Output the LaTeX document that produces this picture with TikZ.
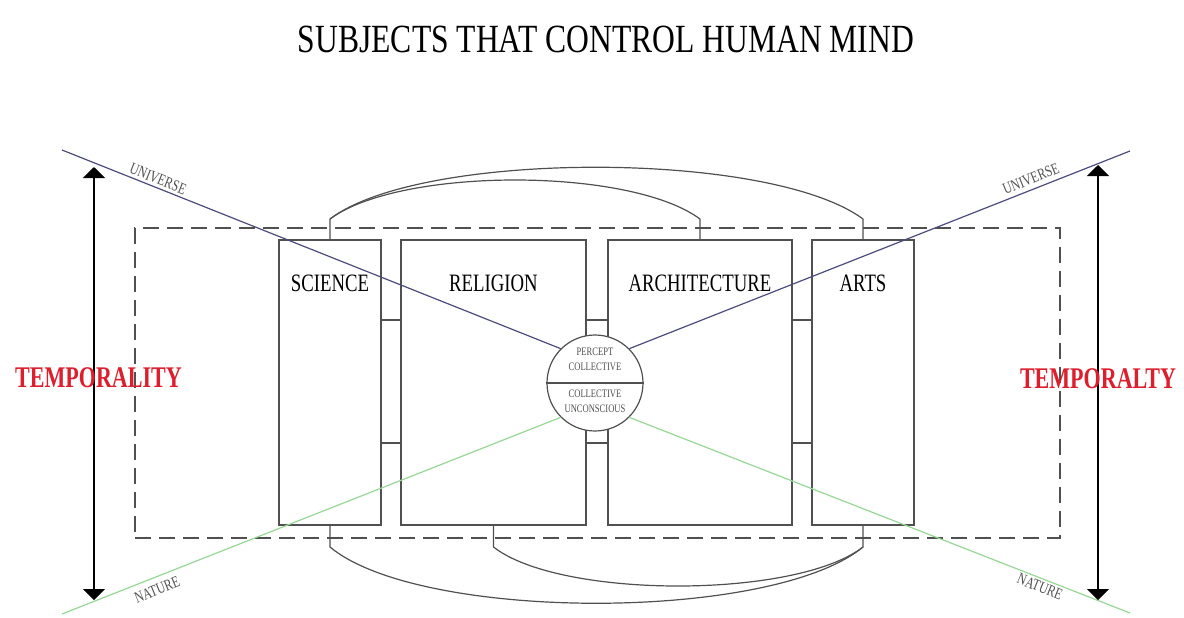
\documentclass[tikz,border=0pt]{standalone}
\usepackage{fontspec}
\setmainfont{Liberation Serif}
\usetikzlibrary{arrows.meta,calc}
\definecolor{ln}{RGB}{80,80,80}
\definecolor{univ}{RGB}{75,75,125}
\definecolor{nat}{RGB}{150,215,150}
\definecolor{temp}{RGB}{220,30,45}
\newcommand{\condtxt}[2][0.75]{\scalebox{#1}[1]{#2}}
\begin{document}
\begin{tikzpicture}[x=0.5pt,y=-0.5pt,line width=0.6pt,
  subj/.style={draw=ln,minimum height=142.5pt,inner sep=0pt},
  subjlbl/.style={inner sep=0pt,font=\fontsize{12.5}{14}\selectfont},
  conn/.style={draw=ln},
  frame/.style={draw=ln,dash pattern=on 8pt off 4pt,minimum width=462.5pt,minimum height=155pt,inner sep=0pt},
  temparrow/.style={draw=black,line width=0.6pt,{Triangle[width=11pt,length=5.5pt]}-{Triangle[width=11pt,length=5.5pt]}},
  templbl/.style={inner sep=0pt,text=temp,font=\fontsize{15}{18}\selectfont\bfseries},
  smalllbl/.style={inner sep=0pt,font=\fontsize{8}{9}\selectfont,text=ln},
  circlbl/.style={inner sep=0pt,font=\fontsize{5.7}{6.5}\selectfont,text=ln},
]
\useasboundingbox (0,0) rectangle (1184,617);

% title
\node[inner sep=0pt,font=\fontsize{20}{24}\selectfont] (title) at (606,39) {\condtxt[0.79]{SUBJECTS THAT CONTROL HUMAN MIND}};

% dashed frame
\node[frame] (fr) at (597.5,383) {};

% subject boxes
\node[subj,minimum width=51pt] (sci) at (330,382.5) {};
\node[subj,minimum width=92.5pt] (rel) at (493.5,382.5) {};
\node[subj,minimum width=92pt] (arc) at (700,382.5) {};
\node[subj,minimum width=51pt] (art) at (863,382.5) {};

\node[subjlbl] (lsci) at (330,283) {\condtxt{SCIENCE}};
\node[subjlbl] (lrel) at (493.5,283) {\condtxt{RELIGION}};
\node[subjlbl] (larc) at (700,283) {\condtxt{ARCHITECTURE}};
\node[subjlbl] (lart) at (863,283) {\condtxt{ARTS}};

% rungs between boxes
\coordinate (ry1) at (0,320);
\coordinate (ry2) at (0,443);
\foreach \a/\b in {sci/rel,rel/arc,arc/art}{
  \draw[conn] (\a.east |- ry1) -- (\b.west |- ry1);
  \draw[conn] (\a.east |- ry2) -- (\b.west |- ry2);
}

% top arcs
\coordinate (topy) at (0,219);
\coordinate (boty) at (0,547);
\coordinate (sciT) at (sci.north |- topy);
\coordinate (arcT) at (arc.north |- topy);
\coordinate (artT) at (art.north |- topy);
\coordinate (sciB) at (sci.south |- boty);
\coordinate (relB) at (rel.south |- boty);
\coordinate (artB) at (art.south |- boty);
\draw[conn] (sci.north) -- (sciT) .. controls (420,150) and (770,150) .. (artT) -- (art.north);
\draw[conn] (sciT) .. controls (400,167) and (630,167) .. (arcT) -- (arc.north);
\draw[conn] (sci.south) -- (sciB) .. controls (420,622) and (772,622) .. (artB) -- (art.south);
\draw[conn] (rel.south) -- (relB) .. controls (560,599) and (796,599) .. (artB);

% centre circle
\node[draw=ln,fill=white,circle,minimum size=48pt,inner sep=0pt] (circ) at (595,383) {};
\draw[conn] (circ.west) -- (circ.east);
\node[circlbl,align=center] (ctop) at (595,359) {\condtxt{PERCEPT}\\[1pt]\condtxt{COLLECTIVE}};
\node[circlbl,align=center] (cbot) at (595,401) {\condtxt{COLLECTIVE}\\[1pt]\condtxt{UNCONSCIOUS}};

% diagonals
\coordinate (uL) at (62,150);
\coordinate (uR) at (1130,151);
\coordinate (nL) at (62,614);
\coordinate (nR) at (1130,613);
\draw[univ] (uL) -- (circ.135);
\draw[univ] (uR) -- (circ.45);
\draw[nat] (nL) -- (circ.225);
\draw[nat] (nR) -- (circ.315);

\node[smalllbl,rotate=-22] (uLl) at (158,179) {\condtxt{UNIVERSE}};
\node[smalllbl,rotate=22] (uRl) at (1031,179) {\condtxt{UNIVERSE}};
\node[smalllbl,rotate=22] (nLl) at (157,590) {\condtxt{NATURE}};
\node[smalllbl,rotate=-22] (nRl) at (1040,587) {\condtxt{NATURE}};

% temporality arrows
\coordinate (aLt) at (94,167);
\coordinate (aLb) at (94,600);
\coordinate (aRt) at (1098,165);
\coordinate (aRb) at (1098,600);
\draw[temparrow] (aLt) -- (aLb);
\draw[temparrow] (aRt) -- (aRb);
\node[templbl] (tL) at (98.5,378) {\condtxt[0.735]{TEMPORALITY}};
\node[templbl] (tR) at (1098,379) {\condtxt[0.735]{TEMPORALTY}};
\end{tikzpicture}
\end{document}
